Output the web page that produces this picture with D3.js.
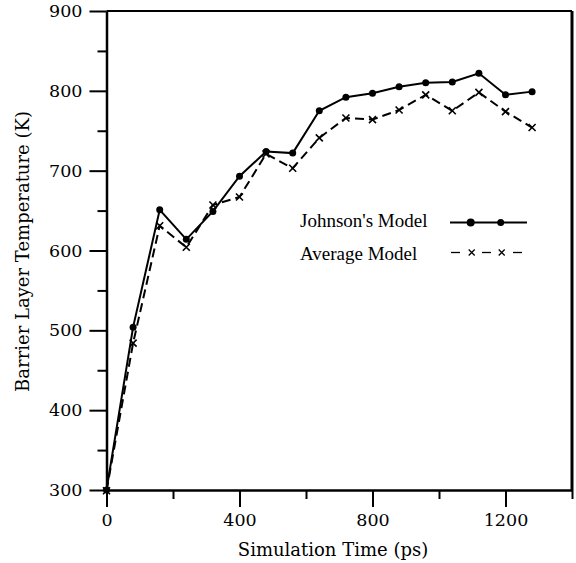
<!DOCTYPE html>
<html lang="en">
  <head>
    <meta charset="utf-8">
    <title>barrier_layer_temperature</title>
    <script src="https://d3js.org/d3.v7.min.js"></script>
    <style>
      body { margin: 0; background: white; }
      .tick text { font-family: "DejaVu Serif", serif; font-size: 17.5px; fill: #000; }
    </style>
  </head>

  <body>

  <script>

// chart data

  var times = [0, 80, 160, 240, 320, 400, 480, 560, 640, 720, 800, 880, 960, 1040, 1120, 1200, 1280];
  var johnson = [300, 504, 651, 614, 649, 693, 724, 722, 775, 792, 797, 805, 810, 811, 822, 795, 799];
  var average = [299, 484, 631, 604, 657, 667, 721, 703, 741, 766, 764, 776, 795, 775, 798, 774, 754];
  var xMajor = [0, 400, 800, 1200];
  var xMinor = [200, 600, 1000, 1400];
  var yMajor = [300, 400, 500, 600, 700, 800, 900];
  var yMinor = [350, 450, 550, 650, 750, 850];
  var seriesNames = ["Johnson's Model", "Average Model"];

  var w = 576;
  var h = 563;
  var margin = {top: 11, right: 4, bottom: 73, left: 106.5};

  var svg = d3.select("body")
    .append("svg")
      .attr("width", w)
      .attr("height", h);

  var xScale = d3.scaleLinear()
      .domain([0, 1400])
      .range([margin.left, w - margin.right]);

  var yScale = d3.scaleLinear()
      .domain([300, 900])
      .range([h - margin.bottom, margin.top]);

  // minor ticks first, then the labelled axes
  svg.append("g")
      .attr("transform", `translate (0, ${yScale(300)})`)
      .call(d3.axisBottom(xScale).tickValues(xMinor).tickSize(9).tickSizeOuter(0).tickFormat(""))
      .call(g => g.select(".domain").remove())
      .selectAll("line").attr("stroke-width", 2);

  svg.append("g")
      .attr("transform", `translate (${xScale(0)}, 0)`)
      .call(d3.axisLeft(yScale).tickValues(yMinor).tickSize(9).tickSizeOuter(0).tickFormat(""))
      .call(g => g.select(".domain").remove())
      .selectAll("line").attr("stroke-width", 2);

  var xAxis = svg.append("g")
      .attr("transform", `translate (0, ${yScale(300)})`)
      .call(d3.axisBottom(xScale).tickValues(xMajor).tickSize(17).tickPadding(7).tickSizeOuter(0).tickFormat(d3.format("d")));
  xAxis.selectAll("line").attr("stroke-width", 2);
  xAxis.select(".domain").attr("stroke-width", 2.5);

  var yAxis = svg.append("g")
      .attr("transform", `translate (${xScale(0)}, 0)`)
      .call(d3.axisLeft(yScale).tickValues(yMajor).tickSize(17).tickPadding(7).tickSizeOuter(0));
  yAxis.selectAll("line").attr("stroke-width", 2);
  yAxis.select(".domain").attr("stroke-width", 2.5);

  // frame: top and right
  svg.append("line")
      .attr("x1", xScale(0)).attr("x2", xScale(1400))
      .attr("y1", yScale(900)).attr("y2", yScale(900))
      .attr("stroke", "#000").attr("stroke-width", 2);
  svg.append("line")
      .attr("x1", xScale(1400)).attr("x2", xScale(1400))
      .attr("y1", yScale(900)).attr("y2", yScale(300))
      .attr("stroke", "#000").attr("stroke-width", 3);

  // axis titles
  svg.append("text")
      .attr("x", 333)
      .attr("y", 556)
      .attr("text-anchor", "middle")
      .style("font-family", "DejaVu Serif, serif")
      .style("font-size", "18px")
      .text("Simulation Time (ps)");

  svg.append("text")
      .attr("transform", `translate (29, 251.5) rotate(-90)`)
      .attr("text-anchor", "middle")
      .style("font-family", "DejaVu Serif, serif")
      .style("font-size", "18px")
      .text("Barrier Layer Temperature (K)");

  // series
  var jData = times.map((t, i) => ({t: t, v: johnson[i]}));
  var aData = times.map((t, i) => ({t: t, v: average[i]}));

  var line = d3.line()
      .x(d => xScale(d.t))
      .y(d => yScale(d.v));

  svg.append("path")
      .datum(aData)
      .attr("d", line)
      .attr("fill", "none")
      .attr("stroke", "#000")
      .attr("stroke-width", 2)
      .attr("stroke-dasharray", "9,5");

  var xm = 3.5;
  svg.append("g").selectAll("path")
      .data(aData)
    .enter().append("path")
      .attr("d", d => {
        var cx = xScale(d.t), cy = yScale(d.v);
        return `M${cx - xm},${cy - xm}L${cx + xm},${cy + xm}M${cx - xm},${cy + xm}L${cx + xm},${cy - xm}`;
      })
      .attr("stroke", "#000")
      .attr("stroke-width", 1.6);

  svg.append("path")
      .datum(jData)
      .attr("d", line)
      .attr("fill", "none")
      .attr("stroke", "#000")
      .attr("stroke-width", 2);

  svg.append("g").selectAll("circle")
      .data(jData)
    .enter().append("circle")
      .attr("cx", d => xScale(d.t))
      .attr("cy", d => yScale(d.v))
      .attr("r", 3.5)
      .attr("fill", "#000");

  // legend
  var legend = svg.append("g");
  legend.selectAll("text")
      .data(seriesNames)
    .enter().append("text")
      .attr("x", 300)
      .attr("y", (d, i) => 227 + i * 33)
      .style("font-family", "Liberation Serif, Times New Roman, serif")
      .style("font-size", "19px")
      .text(d => d);

  legend.append("line")
      .attr("x1", 450).attr("x2", 527)
      .attr("y1", 222.5).attr("y2", 222.5)
      .attr("stroke", "#000").attr("stroke-width", 2);
  legend.selectAll("circle")
      .data([470.7, 500.7])
    .enter().append("circle")
      .attr("cx", d => d).attr("cy", 222.5)
      .attr("r", (d, i) => i === 0 ? 4 : 3.5)
      .attr("fill", "#000");

  legend.selectAll("line.dash")
      .data([[451, 460], [482, 491], [513, 522]])
    .enter().append("line")
      .attr("class", "dash")
      .attr("x1", d => d[0]).attr("x2", d => d[1])
      .attr("y1", 252.5).attr("y2", 252.5)
      .attr("stroke", "#000").attr("stroke-width", 1.3);
  legend.selectAll("path")
      .data([471.7, 501.7])
    .enter().append("path")
      .attr("d", d => `M${d - 3},${252.5 - 3}L${d + 3},${252.5 + 3}M${d - 3},${252.5 + 3}L${d + 3},${252.5 - 3}`)
      .attr("stroke", "#000").attr("stroke-width", 1.3);

    </script>

  </body>

</html>
